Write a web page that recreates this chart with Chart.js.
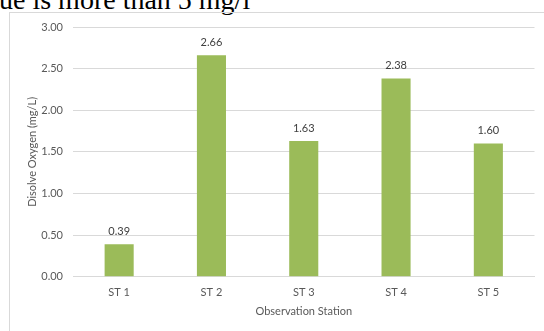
<!DOCTYPE html>
<html>
<head>
<meta charset="utf-8">
<script src="https://cdn.jsdelivr.net/npm/chart.js@4"></script>
<style>
  html, body { margin: 0; padding: 0; background: #ffffff; overflow: hidden; }
  body { width: 544px; height: 331px; position: relative; }
  #caption { position: absolute; left: -1px; top: -14px; font-family: "Liberation Serif", serif; font-size: 28px; line-height: 28px; color: #000; white-space: nowrap; }
  #frame { position: absolute; left: 9px; top: 12px; width: 560px; height: 340px; border: 1px solid #d9d9d9; box-sizing: border-box; }
  #wrap { position: absolute; left: 0; top: 0; width: 544px; height: 331px; }
</style>
</head>
<body>
<div id="caption">ue is more than 5 mg/l</div>
<div id="frame"></div>
<div id="wrap"><canvas id="c" width="544" height="331"></canvas></div>
<script>
const stations = ["ST 1", "ST 2", "ST 3", "ST 4", "ST 5"];
const oxygenValues = [0.39, 2.66, 1.63, 2.38, 1.60];
const yTickMin = 0;
const yTickMax = 3;
const yTickStep = 0.5;
const yAxisTitle = "Disolve Oxygen (mg/L)";
const xAxisTitle = "Observation Station";

const labelFont = { family: "Lato", size: 11 };

const valueLabels = {
  id: 'valueLabels',
  afterDatasetsDraw(chart) {
    const ctx = chart.ctx;
    const meta = chart.getDatasetMeta(0);
    ctx.save();
    ctx.font = '11px Lato';
    ctx.fillStyle = '#404040';
    ctx.textAlign = 'center';
    ctx.textBaseline = 'middle';
    meta.data.forEach((bar, i) => {
      ctx.fillText(oxygenValues[i].toFixed(2), bar.x, bar.y - 13);
    });
    ctx.restore();
  }
};

new Chart(document.getElementById('c'), {
  type: 'bar',
  data: {
    labels: stations,
    datasets: [{
      data: oxygenValues,
      backgroundColor: '#9bbb59',
      borderWidth: 0,
      barPercentage: 0.315,
      categoryPercentage: 1.0
    }]
  },
  options: {
    responsive: false,
    animation: false,
    devicePixelRatio: 1,
    layout: { padding: { top: 27, right: 9.5, bottom: 0, left: 0 } },
    plugins: { legend: { display: false }, tooltip: { enabled: false } },
    scales: {
      x: {
        grid: { display: false, drawTicks: false },
        border: { display: true, color: '#d9d9d9', width: 1 },
        ticks: { color: '#595959', font: labelFont, padding: 9 },
        title: { display: true, text: xAxisTitle, color: '#595959', font: labelFont, padding: { top: 4, bottom: 12.5 } },
        afterFit(scale) { scale.height = 54.3; }
      },
      y: {
        min: yTickMin,
        max: yTickMax,
        ticks: { stepSize: yTickStep, color: '#595959', font: labelFont, padding: 10, callback: v => Number(v).toFixed(2) },
        grid: { color: '#d9d9d9', lineWidth: 1, drawTicks: false },
        border: { display: false },
        title: { display: true, text: yAxisTitle, color: '#595959', font: labelFont, padding: { top: 26, bottom: 0 } },
        afterFit(scale) { scale.width = 73; }
      }
    }
  },
  plugins: [valueLabels]
});
</script>
</body>
</html>
